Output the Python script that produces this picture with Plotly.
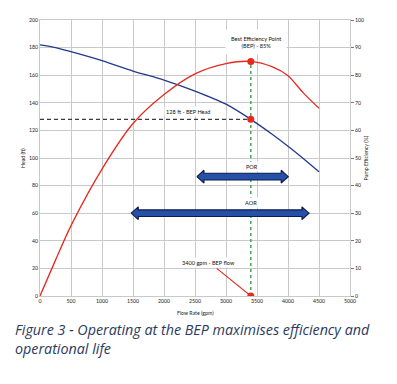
import plotly.graph_objects as go

# ---------------- data ----------------
flow = [0, 250, 500, 1000, 1500, 2000, 2500, 3000, 3400, 3750, 4000, 4250, 4500]
head = [182, 180, 177, 170.5, 163, 156.5, 148.5, 139, 128, 117, 108.5, 99.5, 90]
efficiency = [0, 13, 25.5, 46, 62.5, 73, 80.5, 84.2, 85, 83, 79.8, 73.5, 68]

bep_flow = 3400
bep_head = 128
bep_eff = 85

por_span = [2530, 4005]
por_level = 86.5
aor_span = [1470, 4340]
aor_level = 60

x_ticks = list(range(0, 5001, 500))
head_ticks = list(range(0, 201, 20))
eff_ticks = list(range(0, 101, 10))

bep_label_text = "Best Efficiency Point<br>(BEP) - 85%"
head_label_text = "128 ft - BEP Head"
flow_label_text = "3400 gpm - BEP flow"
caption_text = "Figure 3 - Operating at the BEP maximises efficiency and<br>operational life"

# label positions (data units)
bep_label_pos = [3480, 184]
head_label_pos = [2390, 134]
flow_label_pos = [2715, 24.5]
flow_connector_start = [2850, 20]
por_label_pos = [3420, 94]
aor_label_pos = [3410, 67.5]

FONT = "Lato"
RED = "#e8281e"
BLUE = "#23398e"
GRID = "#c9c9c9"

fig = go.Figure()

# head curve
fig.add_trace(go.Scatter(x=flow, y=head, mode="lines", line=dict(color=BLUE, width=1.3, shape="spline", smoothing=0.8),
                         yaxis="y", hoverinfo="skip", showlegend=False))

# BEP head dashed line
fig.add_trace(go.Scatter(x=[0, bep_flow], y=[bep_head, bep_head], mode="lines",
                         line=dict(color="#3a3a3a", width=1.4, dash="4px,3px"), showlegend=False, hoverinfo="skip"))

# green vertical dashed line (in head units)
eff_to_head = head_ticks[-1] / eff_ticks[-1]
fig.add_trace(go.Scatter(x=[bep_flow, bep_flow], y=[0, bep_eff * eff_to_head], mode="lines",
                         line=dict(color="#3d9b4f", width=1.4, dash="3px,3px"), showlegend=False, hoverinfo="skip"))


def arrow(span, level, hl=115, hh=4.6, sh=2.4):
    x0, x1 = span
    xs = [x0, x0 + hl, x0 + hl, x1 - hl, x1 - hl, x1, x1 - hl, x1 - hl, x0 + hl, x0 + hl, x0]
    ys = [level, level + hh, level + sh, level + sh, level + hh, level,
          level - hh, level - sh, level - sh, level - hh, level]
    return xs, ys


for span, lvl in [(por_span, por_level), (aor_span, aor_level)]:
    xs, ys = arrow(span, lvl)
    fig.add_trace(go.Scatter(x=xs, y=ys, mode="lines", fill="toself", fillcolor="#2450a8",
                             line=dict(color="#0d1a4d", width=1.1), showlegend=False, hoverinfo="skip"))

# connector for flow label
fig.add_trace(go.Scatter(x=[flow_connector_start[0], bep_flow], y=[flow_connector_start[1], 0], mode="lines",
                         line=dict(color=RED, width=1.1), showlegend=False, hoverinfo="skip"))

# BEP markers on head axis
fig.add_trace(go.Scatter(x=[bep_flow, bep_flow], y=[bep_head, 0], mode="markers",
                         marker=dict(color=RED, size=7), showlegend=False, hoverinfo="skip"))

# efficiency curve
fig.add_trace(go.Scatter(x=flow, y=efficiency, mode="lines", line=dict(color=RED, width=1.3, shape="spline", smoothing=0.8),
                         yaxis="y2", showlegend=False, hoverinfo="skip"))
fig.add_trace(go.Scatter(x=[bep_flow], y=[bep_eff], mode="markers", marker=dict(color=RED, size=7),
                         yaxis="y2", showlegend=False, hoverinfo="skip"))

small = dict(family=FONT, size=5.2, color="#222222")
lab = dict(family=FONT, size=5.6, color="#111111")

annotations = [
    dict(x=bep_label_pos[0], y=bep_label_pos[1], xref="x", yref="y", text=bep_label_text, showarrow=False,
         font=lab, bgcolor="white", borderpad=5, align="center"),
    dict(x=head_label_pos[0], y=head_label_pos[1], xref="x", yref="y", text=head_label_text, showarrow=False,
         font=lab, bgcolor="white", borderpad=1),
    dict(x=flow_label_pos[0], y=flow_label_pos[1], xref="x", yref="y", text=flow_label_text, showarrow=False,
         font=lab, bgcolor="white", borderpad=1),
    dict(x=por_label_pos[0], y=por_label_pos[1], xref="x", yref="y", text="POR", showarrow=False,
         font=lab, bgcolor="white", borderpad=1),
    dict(x=aor_label_pos[0], y=aor_label_pos[1], xref="x", yref="y", text="AOR", showarrow=False,
         font=lab, bgcolor="white", borderpad=1),
    # axis titles
    dict(x=-0.055, y=0.5, xref="paper", yref="paper", text="Head (ft)", textangle=-90, showarrow=False,
         font=small, xanchor="center", yanchor="middle"),
    dict(x=1.05, y=0.5, xref="paper", yref="paper", text="Pump Efficiency (%)", textangle=-90, showarrow=False,
         font=small, xanchor="center", yanchor="middle"),
    dict(x=0.5, y=-0.063, xref="paper", yref="paper", text="Flow Rate (gpm)", showarrow=False,
         font=small, xanchor="center", yanchor="middle"),
    # caption
    dict(x=-0.088, y=-0.078, xref="paper", yref="paper", text="<i>" + caption_text + "</i>", showarrow=False,
         xanchor="left", yanchor="top", align="left",
         font=dict(family="Open Sans", size=14.3, color="#2a3a5e")),
]

fig.update_layout(
    width=397, height=384,
    margin=dict(l=40, r=47, t=20, b=88),
    paper_bgcolor="white", plot_bgcolor="white",
    showlegend=False,
    xaxis=dict(range=[0, 5000], tickvals=x_ticks, showgrid=True, gridcolor=GRID, gridwidth=1,
               zeroline=False, showline=True, linecolor=GRID, mirror=True, ticks="",
               tickfont=small, automargin=False),
    yaxis=dict(range=[0, 200], tickvals=head_ticks, showgrid=True, gridcolor=GRID, gridwidth=1,
               zeroline=False, showline=True, linecolor=GRID, mirror=True, ticks="",
               tickfont=small, automargin=False),
    yaxis2=dict(range=[0, 100], tickvals=eff_ticks, overlaying="y", side="right", showgrid=False,
                zeroline=False, showline=False, ticks="outside", ticklen=3, tickcolor="#777777",
                tickfont=small, automargin=False),
    annotations=annotations,
)

fig.write_html("out.html", config={"displayModeBar": False},
               post_script="document.body.style.margin='0';document.body.style.overflow='hidden';")
